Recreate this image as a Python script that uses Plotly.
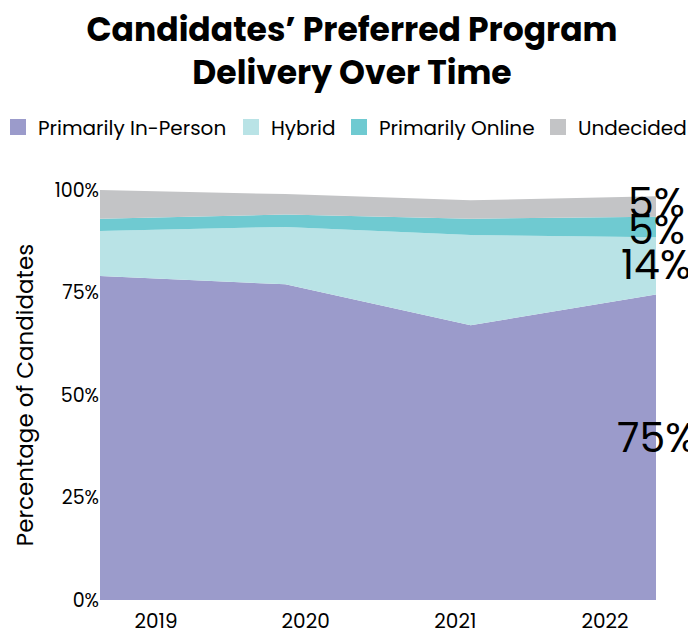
import plotly.graph_objects as go

anos = ["2019", "2020", "2021", "2022"]
presencial = [79, 77, 67, 74.5]
hibrido = [11, 14, 22, 14]
online = [3, 3, 4, 5]
indeciso = [7, 5, 4.5, 5]
rotulos_finais = ["75%", "14%", "5%", "5%"]
y_ticks = [0, 25, 50, 75, 100]
y_rotulos = ["0%", "25%", "50%", "75%", "100%"]

SERIES = [
    ("Primarily In-Person", presencial, "#9b9bcb"),
    ("Hybrid", hibrido, "#b9e3e6"),
    ("Primarily Online", online, "#6fcad1"),
    ("Undecided", indeciso, "#c3c4c6"),
]
FONTE = "Poppins, Inter, sans-serif"

# a página tem 8px de margem no body -> figura um pouco menor
W, H = 688, 627
L, R, T, B = 92, 40, 182, 35
LARG = W - L - R
ALT = H - T - B
LEG_X = [-10, 223, 331, 530]   # início de cada item da legenda, em px da figura
LEG_Y = 119                     # centro da linha da legenda, em px da figura
AJUSTE_ROTULO = [10, 1, -3, 4]  # deslocamento vertical (px) dos rótulos finais

fig = go.Figure()
for nome, valores, cor in SERIES:
    fig.add_trace(go.Scatter(x=list(range(len(anos))), y=valores, name=nome, mode="lines",
                             stackgroup="um", line=dict(width=0, color=cor),
                             fillcolor=cor, showlegend=False))

# legenda com quadrados, um bloco por série (traços vazios no eixo x2 dos anos)
for i, (nome, valores, cor) in enumerate(SERIES):
    leg = "legend" if i == 0 else f"legend{i + 1}"
    fig.add_trace(go.Scatter(x=[None], y=[None], name=nome, mode="markers", xaxis="x2",
                             marker=dict(symbol="square", size=18, color=cor), legend=leg))
    fig.update_layout({leg: dict(x=(LEG_X[i] - L) / LARG, y=1 + (T - LEG_Y) / ALT,
                                 xanchor="left", yanchor="middle", bgcolor="rgba(0,0,0,0)",
                                 font=dict(family=FONTE, size=20, color="black"))})

# rótulos do último ano, no meio de cada faixa
base = 0
for (nome, valores, cor), texto, dy in zip(SERIES, rotulos_finais, AJUSTE_ROTULO):
    meio = base + valores[-1] / 2
    base += valores[-1]
    fig.add_annotation(x=1.0, xref="paper", y=meio, yref="y", text=texto, showarrow=False,
                       xanchor="center", yanchor="middle", yshift=dy,
                       font=dict(family=FONTE, size=41, color="black"))

fig.update_layout(
    width=W, height=H,
    margin=dict(l=L, r=R, t=T, b=B, autoexpand=False),
    paper_bgcolor="white", plot_bgcolor="rgba(0,0,0,0)",
    font=dict(family=FONTE, color="black"),
    title=dict(text="<b>Candidates’ Preferred Program<br>Delivery Over Time</b>",
               x=0.5, xanchor="center", y=0.947, yanchor="middle",
               font=dict(family=FONTE, size=33, color="black")),
    showlegend=True,
    xaxis=dict(range=[0, 3], domain=[0, 1], showgrid=False, showline=False, zeroline=False,
               showticklabels=False, ticks=""),
    # eixo só para os rótulos dos anos (no original ficam mais juntos que os pontos)
    xaxis2=dict(anchor="y", side="bottom",
                domain=[(156 - 100) / LARG, (605 - 100) / LARG],
                range=[0, 3], tickmode="array", tickvals=list(range(len(anos))),
                ticktext=anos, showgrid=False, zeroline=False, showline=False,
                ticks="", tickfont=dict(size=20), ticklabelstandoff=7),
)
fig.update_yaxes(range=[0, 100], tickmode="array", tickvals=y_ticks, ticktext=y_rotulos,
                 showgrid=False, zeroline=False, showline=False,
                 tickfont=dict(size=19),
                 title=dict(text="Percentage of Candidates", font=dict(size=23), standoff=14))

fig.write_html("out.html")
